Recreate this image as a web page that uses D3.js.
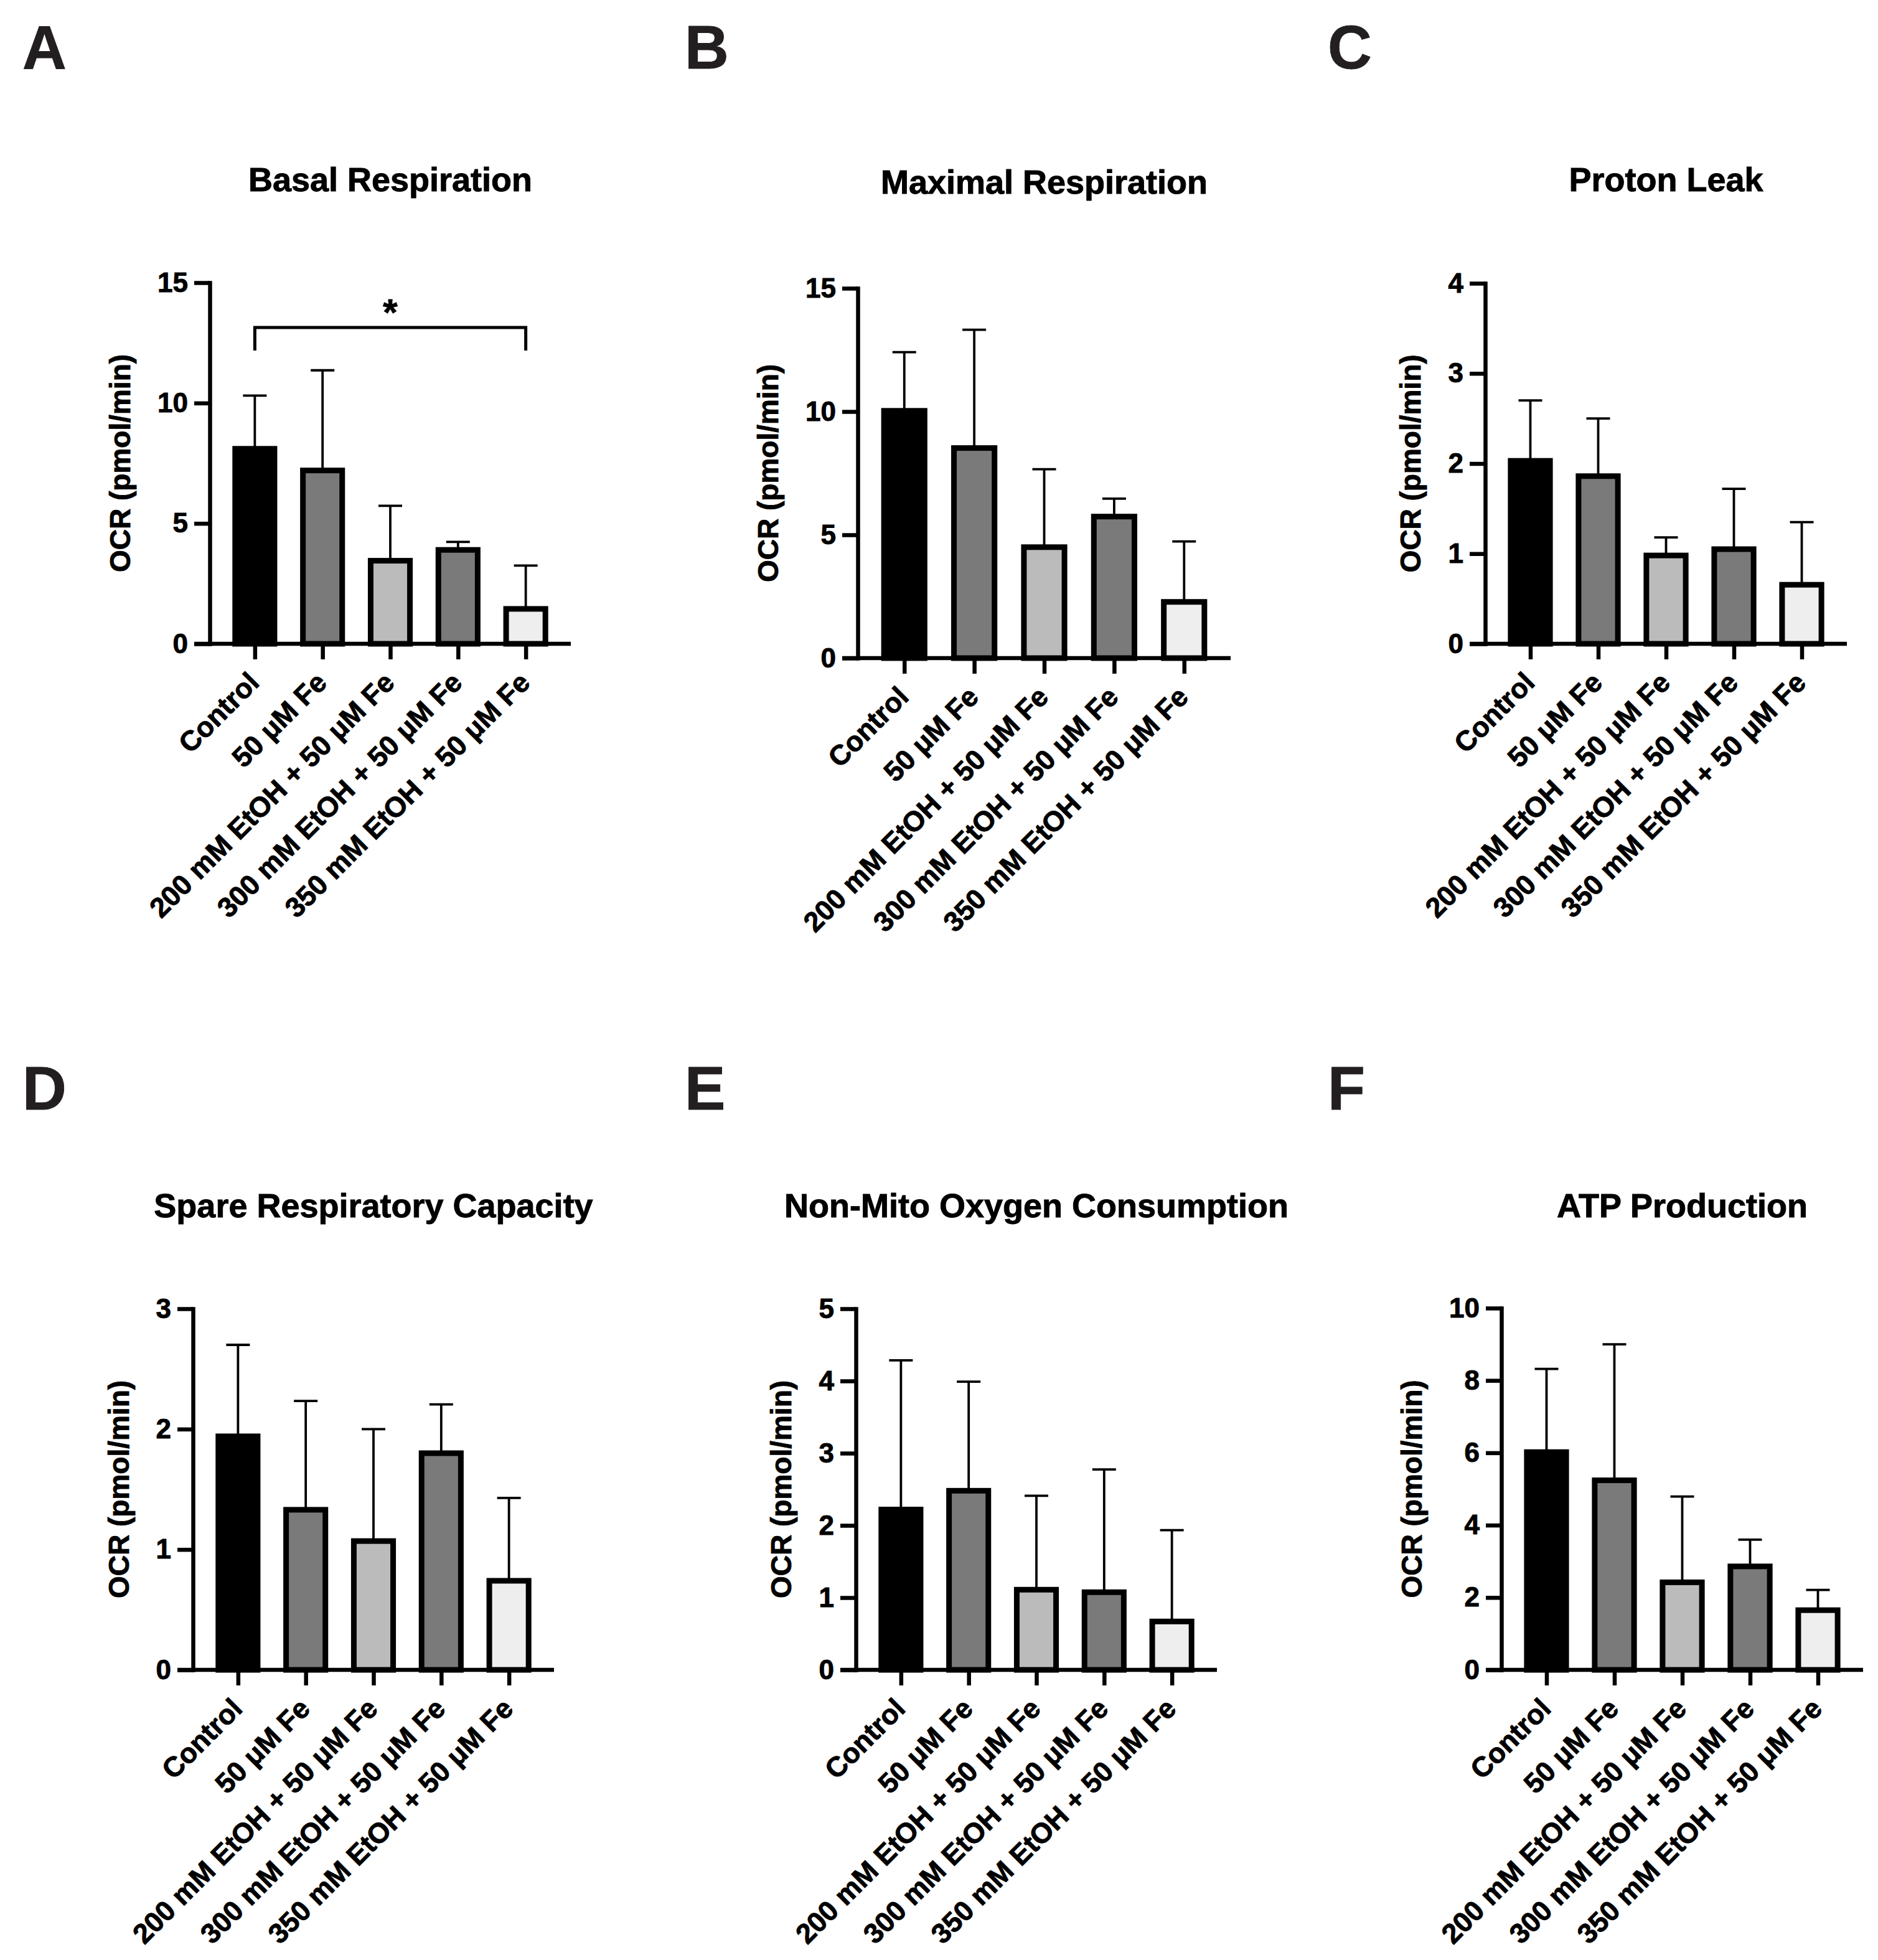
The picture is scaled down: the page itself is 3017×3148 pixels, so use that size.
<!DOCTYPE html>
<html>
<head>
<meta charset="utf-8">
<script src="https://cdn.jsdelivr.net/npm/d3@7"></script>
<style>
  html, body { margin: 0; padding: 0; background: #fff; }
  svg { display: block; }
  text { font-family: "Liberation Sans", Arial, Helvetica, sans-serif; font-weight: bold; stroke: currentColor; stroke-width: 0.9px; }
</style>
</head>
<body>
<svg id="chart" width="3017" height="3148"></svg>
<script>
// ---------------- DATA ----------------
const categories = [
  "Control",
  "50 μM Fe",
  "200 mM EtOH + 50 μM Fe",
  "300 mM EtOH + 50 μM Fe",
  "350 mM EtOH + 50 μM Fe"
];

const panelLetters = ["A", "B", "C", "D", "E", "F"];
const panelTitles = [
  "Basal Respiration",
  "Maximal Respiration",
  "Proton Leak",
  "Spare Respiratory Capacity",
  "Non-Mito Oxygen Consumption",
  "ATP Production"
];
const yAxisLabel = "OCR (pmol/min)";

// means and SD (upper error bar length)
const basalMean   = [8.10, 7.20, 3.45, 3.90, 1.45];
const basalSD     = [2.21, 4.16, 2.28, 0.33, 1.80];
const maximalMean = [10.03, 8.52, 4.50, 5.74, 2.28];
const maximalSD   = [2.38, 4.80, 3.16, 0.73, 2.45];
const leakMean    = [2.03, 1.86, 0.98, 1.05, 0.655];
const leakSD      = [0.67, 0.64, 0.20, 0.67, 0.695];
const spareMean   = [1.94, 1.33, 1.07, 1.80, 0.74];
const spareSD     = [0.76, 0.904, 0.93, 0.405, 0.688];
const nonMitoMean = [2.22, 2.48, 1.11, 1.075, 0.67];
const nonMitoSD   = [2.066, 1.51, 1.30, 1.699, 1.264];
const atpMean     = [6.02, 5.24, 2.42, 2.86, 1.65];
const atpSD       = [2.30, 3.76, 2.37, 0.74, 0.56];

// y tick labels
const basalTicks   = [0, 5, 10, 15];
const maximalTicks = [0, 5, 10, 15];
const leakTicks    = [0, 1, 2, 3, 4];
const spareTicks   = [0, 1, 2, 3];
const nonMitoTicks = [0, 1, 2, 3, 4, 5];
const atpTicks     = [0, 2, 4, 6, 8, 10];

// significance bracket (panel A): Control vs 350 mM EtOH + 50 μM Fe
const sigFrom = "Control";
const sigTo = "350 mM EtOH + 50 μM Fe";
const sigLevel = 13.14;
const sigDrop = 12.18;
const sigLabel = "*";

// ---------------- STYLE / LAYOUT ----------------
const barFills = ["#000000", "#7a7a7a", "#bbbbbb", "#7a7a7a", "#eeeeee"];

const panels = [
  { mean: basalMean,   sd: basalSD,   ticks: basalTicks,   ax: 337,  W: 580, yTop: 454,  yBot: 1034, titleY: 307,  letterX: 36,   letterY: 110, sig: true },
  { mean: maximalMean, sd: maximalSD, ticks: maximalTicks, ax: 1378, W: 599, yTop: 463,  yBot: 1057, titleY: 311,  letterX: 1100, letterY: 110 },
  { mean: leakMean,    sd: leakSD,    ticks: leakTicks,    ax: 2386, W: 581, yTop: 455,  yBot: 1034, titleY: 307,  letterX: 2133, letterY: 110 },
  { mean: spareMean,   sd: spareSD,   ticks: spareTicks,   ax: 310,  W: 580, yTop: 2102, yBot: 2682, titleY: 1955, letterX: 36,   letterY: 1782 },
  { mean: nonMitoMean, sd: nonMitoSD, ticks: nonMitoTicks, ax: 1375, W: 580, yTop: 2102, yBot: 2682, titleY: 1955, letterX: 1100, letterY: 1782 },
  { mean: atpMean,     sd: atpSD,     ticks: atpTicks,     ax: 2412, W: 581, yTop: 2101, yBot: 2682, titleY: 1955, letterX: 2133, letterY: 1782 }
];

const AXIS_W = 6.5, BAR_STROKE = 9, ERR_W = 3.8, CAP_HALF = 19;
const TICK_Y = 25, TICK_X = 25;
const TICK_FONT = 44, LABEL_FONT = 45, TITLE_FONT = 54, LETTER_FONT = 98;

const svg = d3.select("#chart");
svg.append("rect").attr("width", 3017).attr("height", 3148).attr("fill", "#fff");

panels.forEach((p, i) => {
  const g = svg.append("g");
  const x = d3.scalePoint().domain(categories).range([p.ax, p.ax + p.W]).padding(0.665);
  const y = d3.scaleLinear().domain([0, d3.max(p.ticks)]).range([p.yBot, p.yTop]);
  const step = x.step();
  const bw = step * 0.58;
  const rows = categories.map((c, k) => ({ c, m: p.mean[k], s: p.sd[k], fill: barFills[k] }));

  // panel letter
  svg.append("text").attr("x", p.letterX).attr("y", p.letterY)
    .attr("font-size", LETTER_FONT).attr("fill", "#231f20").style("color", "#231f20")
    .text(panelLetters[i]);

  // title centred over plotting region
  g.append("text").attr("x", p.ax + p.W / 2).attr("y", p.titleY)
    .attr("text-anchor", "middle").attr("font-size", TITLE_FONT).attr("fill", "#000").style("color", "#000")
    .text(panelTitles[i]);

  // error bars (upper only)
  const eb = g.append("g").attr("stroke", "#000").attr("stroke-width", ERR_W).attr("fill", "none");
  eb.selectAll("line.v").data(rows).join("line").attr("class", "v")
    .attr("x1", d => x(d.c)).attr("x2", d => x(d.c))
    .attr("y1", d => y(d.m)).attr("y2", d => y(d.m + d.s));
  eb.selectAll("line.cap").data(rows).join("line").attr("class", "cap")
    .attr("x1", d => x(d.c) - CAP_HALF).attr("x2", d => x(d.c) + CAP_HALF)
    .attr("y1", d => y(d.m + d.s)).attr("y2", d => y(d.m + d.s));

  // bars
  g.append("g").selectAll("rect").data(rows).join("rect")
    .attr("x", d => x(d.c) - bw / 2).attr("width", bw)
    .attr("y", d => y(d.m)).attr("height", d => y(0) - y(d.m))
    .attr("fill", d => d.fill).attr("stroke", "#000").attr("stroke-width", BAR_STROKE);

  // y axis
  const yAxis = g.append("g").attr("transform", `translate(${p.ax},0)`)
    .call(d3.axisLeft(y).tickValues(p.ticks).tickFormat(d3.format("d"))
      .tickSize(TICK_Y).tickSizeOuter(0).tickPadding(10));
  yAxis.select(".domain").attr("stroke-width", AXIS_W).attr("stroke-linecap", "square");
  yAxis.selectAll(".tick line").attr("stroke-width", AXIS_W);
  yAxis.selectAll(".tick text").attr("font-size", TICK_FONT).attr("fill", "#000").style("color", "#000")
    .attr("font-family", '"Liberation Sans", Arial, sans-serif').attr("font-weight", "bold");

  // x axis
  const xAxis = g.append("g").attr("transform", `translate(0,${y(0)})`)
    .call(d3.axisBottom(x).tickSize(TICK_X).tickSizeOuter(0));
  xAxis.select(".domain").remove();
  xAxis.append("line").attr("x1", p.ax - TICK_Y).attr("x2", p.ax + p.W)
    .attr("y1", 0).attr("y2", 0).attr("stroke", "#000").attr("stroke-width", AXIS_W);
  xAxis.selectAll(".tick line").attr("stroke-width", AXIS_W);
  xAxis.selectAll(".tick text")
    .attr("y", null).attr("dy", null)
    .attr("transform", "translate(9,65) rotate(-45)")
    .attr("text-anchor", "end")
    .attr("font-size", LABEL_FONT).attr("fill", "#000").style("color", "#000")
    .attr("font-family", '"Liberation Sans", Arial, sans-serif').attr("font-weight", "bold");

  // y axis title
  let maxW = 0;
  yAxis.selectAll(".tick text").each(function () { maxW = Math.max(maxW, this.getBBox().width); });
  const labX = p.ax - TICK_Y - 10 - maxW - 44;
  g.append("text")
    .attr("transform", `translate(${labX},${(p.yTop + p.yBot) / 2}) rotate(-90)`)
    .attr("text-anchor", "middle").attr("font-size", 46).attr("fill", "#000").style("color", "#000")
    .text(yAxisLabel);

  // significance bracket
  if (p.sig) {
    const x1 = x(sigFrom), x2 = x(sigTo);
    g.append("path")
      .attr("d", `M${x1},${y(sigDrop)}V${y(sigLevel)}H${x2}V${y(sigDrop)}`)
      .attr("fill", "none").attr("stroke", "#000").attr("stroke-width", 5);
    g.append("text").attr("x", (x1 + x2) / 2).attr("y", y(sigLevel) - 4)
      .attr("text-anchor", "middle").attr("font-size", 60).attr("fill", "#000").style("color", "#000")
      .text(sigLabel);
  }
});
</script>
</body>
</html>
